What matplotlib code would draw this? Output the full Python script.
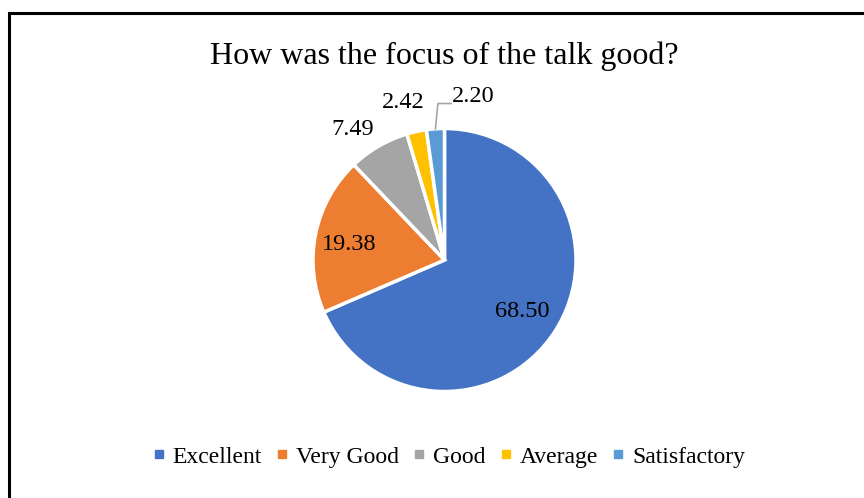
import numpy as np
import matplotlib
matplotlib.use("Agg")
import matplotlib.pyplot as plt
from matplotlib.lines import Line2D
from matplotlib.patches import Rectangle

categories = ["Excellent", "Very Good", "Good", "Average", "Satisfactory"]
values = [68.50, 19.38, 7.49, 2.42, 2.20]
colors = ["#4472C4", "#ED7D31", "#A5A5A5", "#FFC000", "#5B9BD5"]
title = "How was the focus of the talk good?"

plt.rcParams["font.family"] = ["Liberation Serif", "DejaVu Serif"]

W, H = 864, 498
fig = plt.figure(figsize=(W / 100, H / 100), dpi=100)

# frame (left and top edges visible, runs off the image on right/bottom)
fig.patches.append(Rectangle((8.5 / W, -0.05), 1.1, 1 - 13.5 / H + 0.05, transform=fig.transFigure,
                             fill=False, edgecolor="black", linewidth=2.2))

cx, cy, r = 444.5, 260, 131.5
ax = fig.add_axes([(cx - r) / W, 1 - (cy + r) / H, 2 * r / W, 2 * r / H])
wedges, _ = ax.pie(values, colors=colors, startangle=90, counterclock=False,
                   wedgeprops=dict(edgecolor="white", linewidth=2.5))
ax.set_xlim(-1, 1)
ax.set_ylim(-1, 1)
ax.set_aspect("equal")
ax.axis("off")

# data labels: inside for the big slices, outside (best fit) for the small ones
dist = [0.71, 0.735, 1.21, 1.24]
shift = [0, 2, 5, 2.4]
for i, (w, v) in enumerate(zip(wedges, values)):
    ang = (w.theta1 + w.theta2) / 2
    if i == 4:
        # moved label with leader line
        a = np.deg2rad(ang)
        ax.plot([np.cos(a), -0.05, 0.05], [np.sin(a), 1.19, 1.19], color="#A5A5A5",
                linewidth=1.2, clip_on=False)
        ax.text(0.22, 1.24, f"{v:.2f}", ha="center", va="center", fontsize=17.5, clip_on=False)
        continue
    a = np.deg2rad(ang + shift[i])
    ax.text(dist[i] * np.cos(a), dist[i] * np.sin(a), f"{v:.2f}", ha="center", va="center",
            fontsize=17.5, clip_on=False)

fig.text(444 / W, 1 - 56 / H, title, ha="center", va="center", fontsize=23)

handles = [Line2D([], [], marker="s", linestyle="none", markersize=5.5,
                  markerfacecolor=c, markeredgecolor=c) for c in colors]
fig.legend(handles, categories, loc="center", bbox_to_anchor=(449 / W, 1 - 457 / H), ncol=5,
           frameon=False, fontsize=17, handlelength=0.5, handletextpad=0.34, columnspacing=0.6)

fig.savefig("out.png", dpi=100)
